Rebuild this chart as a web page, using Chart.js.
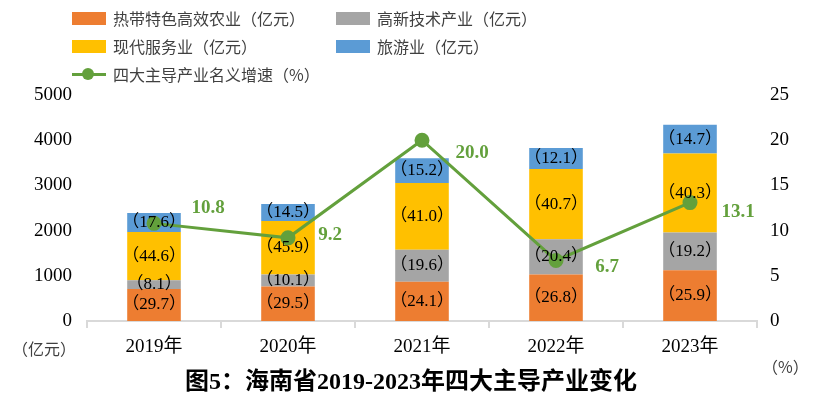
<!DOCTYPE html>
<html>
<head>
<meta charset="utf-8">
<script src="https://cdn.jsdelivr.net/npm/chart.js@4/dist/chart.umd.min.js"></script>
<style>
body { margin: 0; background: #fff; }
#wrap { position: relative; width: 818px; height: 397px; }
.txt { position: absolute; white-space: nowrap; font-family: 'Noto Sans CJK SC', sans-serif; color: #404040; }
.sw { position: absolute; width: 34px; height: 13px; }
</style>
</head>
<body>
<div id="wrap">
    <canvas id="myChart" width="818" height="397"></canvas>

    <div class="sw" style="left:72px;top:12px;background:#ED7D31"></div>
    <div class="txt" style="left:113px;top:6px;font-size:16px">热带特色高效农业（亿元）</div>
    <div class="sw" style="left:336px;top:12px;background:#A5A5A5"></div>
    <div class="txt" style="left:377px;top:6px;font-size:16px">高新技术产业（亿元）</div>
    <div class="sw" style="left:72px;top:40px;background:#FFC000"></div>
    <div class="txt" style="left:113px;top:34px;font-size:16px">现代服务业（亿元）</div>
    <div class="sw" style="left:336px;top:40px;background:#5B9BD5"></div>
    <div class="txt" style="left:377px;top:34px;font-size:16px">旅游业（亿元）</div>
    <div style="position:absolute;left:72px;top:73px;width:34px;height:3px;background:#63A03C"></div>
    <div style="position:absolute;left:82px;top:68px;width:12px;height:12px;border-radius:6px;background:#63A03C"></div>
    <div class="txt" style="left:113px;top:62px;font-size:16px">四大主导产业名义增速（%）</div>

    <div class="txt" style="left:12px;top:336px;font-size:16px">（亿元）</div>
    <div class="txt" style="left:762px;top:354px;font-size:16px">（%）</div>
    <div class="txt" style="left:0;width:822px;text-align:center;top:361px;font-size:24px;font-weight:bold;color:#000;font-family:'Liberation Serif','Noto Sans CJK SC',serif">图5：海南省2019-2023年四大主导产业变化</div>
</div>

<script>
const years = ['2019年', '2020年', '2021年', '2022年', '2023年']

// 亿元
const agriculture = [710, 764, 869, 1026, 1123]
const hightech = [194, 262, 707, 781, 833]
const services = [1066, 1189, 1478, 1558, 1747]
const tourism = [421, 376, 548, 463, 637]

// shares (%) printed inside the bars
const agricultureShare = [29.7, 29.5, 24.1, 26.8, 25.9]
const hightechShare = [8.1, 10.1, 19.6, 20.4, 19.2]
const servicesShare = [44.6, 45.9, 41.0, 40.7, 40.3]
const tourismShare = [17.6, 14.5, 15.2, 12.1, 14.7]

// 名义增速 (%)
const growth = [10.8, 9.2, 20.0, 6.7, 13.1]

const shares = [agricultureShare, hightechShare, servicesShare, tourismShare]
const growthOffsets = [[54, -15], [42, -3], [50, 13], [51, 7], [48, 10]]

const GREEN = '#63A03C'

const labelPlugin = {
    id: 'labelPlugin',
    afterDatasetsDraw(chart) {
        const ctx = chart.ctx
        ctx.save()
        ctx.textAlign = 'center'
        ctx.textBaseline = 'middle'
        ctx.fillStyle = '#000'
        ctx.font = "17px 'Liberation Serif', 'Noto Sans CJK SC', serif"
        shares.forEach((arr, di) => {
            chart.getDatasetMeta(di + 1).data.forEach((bar, i) => {
                const y = (bar.y + bar.base) / 2
                ctx.fillText('（' + arr[i].toFixed(1) + '）', bar.x, y)
            })
        })
        ctx.font = "bold 19px 'Liberation Serif', serif"
        ctx.fillStyle = GREEN
        chart.getDatasetMeta(0).data.forEach((pt, i) => {
            ctx.fillText(growth[i].toFixed(1), pt.x + growthOffsets[i][0], pt.y + growthOffsets[i][1])
        })
        ctx.restore()
    }
}

const tickFont = { family: "'Liberation Serif', 'Noto Sans CJK SC', serif", size: 19 }

const ctx = document.getElementById('myChart').getContext('2d')
const myChart = new Chart(ctx, {
    type: 'bar',
    data: {
        labels: years,
        datasets: [
            {
                type: 'line',
                label: '四大主导产业名义增速（%）',
                data: growth,
                yAxisID: 'y2',
                borderColor: GREEN,
                backgroundColor: GREEN,
                borderWidth: 3,
                pointRadius: 6,
                pointHoverRadius: 6,
                order: 0,
            },
            { label: '热带特色高效农业（亿元）', data: agriculture, backgroundColor: '#ED7D31', yAxisID: 'y', order: 1 },
            { label: '高新技术产业（亿元）', data: hightech, backgroundColor: '#A5A5A5', yAxisID: 'y', order: 1 },
            { label: '现代服务业（亿元）', data: services, backgroundColor: '#FFC000', yAxisID: 'y', order: 1 },
            { label: '旅游业（亿元）', data: tourism, backgroundColor: '#5B9BD5', yAxisID: 'y', order: 1 },
        ]
    },
    options: {
        responsive: false,
        animation: false,
        layout: { padding: { top: 95, left: 0, right: 0, bottom: 0 } },
        datasets: { bar: { barPercentage: 0.4, categoryPercentage: 1 } },
        plugins: {
            legend: { display: false },
            tooltip: { enabled: false },
        },
        scales: {
            x: {
                stacked: true,
                grid: { drawOnChartArea: false, drawTicks: true, tickLength: 7, color: '#D9D9D9', lineWidth: 2 },
                border: { color: '#D9D9D9', width: 2 },
                ticks: { color: '#000', font: tickFont, padding: 8, maxRotation: 0 },
                afterFit: (s) => { s.height = 76 },
            },
            y: {
                stacked: true,
                position: 'left',
                min: 0,
                max: 5000,
                ticks: { stepSize: 1000, color: '#000', font: tickFont, padding: 15, callback: (v) => String(v) },
                grid: { display: false, drawTicks: false },
                border: { display: false },
                afterFit: (s) => { s.width = 87 },
            },
            y2: {
                position: 'right',
                min: 0,
                max: 25,
                ticks: { stepSize: 5, color: '#000', font: tickFont, padding: 13 },
                grid: { display: false, drawTicks: false },
                border: { display: false },
                afterFit: (s) => { s.width = 61 },
            }
        }
    },
    plugins: [labelPlugin]
})
</script>
</body>
</html>
